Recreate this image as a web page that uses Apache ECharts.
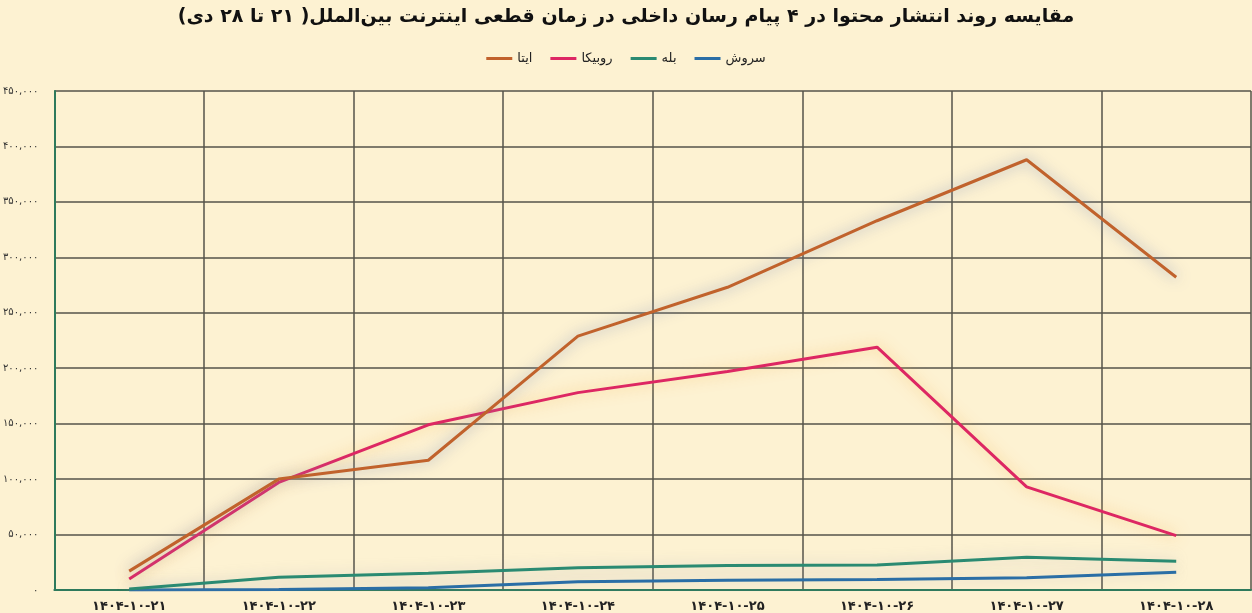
<!DOCTYPE html>
<html>
<head>
<meta charset="utf-8">
<script src="https://cdn.jsdelivr.net/npm/echarts@6/dist/echarts.min.js"></script>
<style>
html,body{margin:0;padding:0;background:#fdf2d2;}
#c{width:1252px;height:613px;}
</style>
</head>
<body>
<div id="c"></div>
<script>
var categories = ['1404-10-21','1404-10-22','1404-10-23','1404-10-24','1404-10-25','1404-10-26','1404-10-27','1404-10-28'];
var seriesNames = ['ایتا','روبیکا','بله','سروش'];
var ita    = [17000, 100000, 117000, 229000, 273000, 333000, 388000, 282000];
var rubika = [10000, 97000, 149000, 178000, 197000, 219000, 93000, 49000];
var bale   = [1000, 11500, 15000, 20000, 22000, 22500, 29500, 26000];
var sorush = [0, 500, 2000, 7500, 8800, 9500, 11000, 16000];
var yTicks = [0, 50000, 100000, 150000, 200000, 250000, 300000, 350000, 400000, 450000];

var fa = '۰۱۲۳۴۵۶۷۸۹';
function toFa(s){ return String(s).replace(/[0-9]/g, function(d){ return fa[+d]; }); }
function fmt(v){ return toFa(String(v).replace(/\B(?=(\d{3})+(?!\d))/g, ',')); }

var colors = ['#c1622c', '#dd2763', '#2a8a72', '#2a6ea6'];
var glows = ['rgba(130,145,185,0.85)', 'rgba(245,180,80,0.7)', 'rgba(150,160,180,0.45)', 'rgba(150,160,180,0.45)'];
var dataSets = [ita, rubika, bale, sorush];

var chart = echarts.init(document.getElementById('c'));
chart.setOption({
  backgroundColor: '#fdf2d2',
  title: {
    text: 'مقایسه روند انتشار محتوا در ۴ پیام رسان داخلی در زمان قطعی اینترنت بین‌الملل( ۲۱ تا ۲۸ دی)',
    left: 'center', top: 3,
    textStyle: { fontFamily: 'DejaVu Sans', fontWeight: 'bold', fontSize: 19, color: '#111' }
  },
  legend: {
    data: seriesNames,
    top: 47, left: 'center',
    icon: 'rect', itemWidth: 26, itemHeight: 3, itemGap: 18,
    textStyle: { fontFamily: 'DejaVu Sans', fontSize: 13, color: '#222' }
  },
  grid: { left: 54, right: 1, top: 91, bottom: 21, containLabel: false },
  xAxis: {
    type: 'category',
    data: categories,
    boundaryGap: true,
    axisLine: { lineStyle: { color: '#2e7a5c', width: 2 } },
    axisTick: { show: false },
    splitLine: { show: true, interval: 0, lineStyle: { color: '#55534a', width: 1.5 } },
    axisLabel: {
      interval: 0, margin: 10,
      formatter: function(v){ return toFa(v); },
      fontFamily: 'DejaVu Sans', fontWeight: 'bold', fontSize: 13, color: '#222'
    }
  },
  yAxis: {
    type: 'value',
    min: 0, max: 450000, interval: 50000,
    axisLine: { show: true, lineStyle: { color: '#2e7a5c', width: 2 } },
    axisTick: { show: false },
    splitLine: { lineStyle: { color: '#55534a', width: 1.5 } },
    axisLabel: {
      margin: 16,
      formatter: function(v){ return fmt(v); },
      fontFamily: 'DejaVu Sans', fontSize: 10, color: '#333'
    }
  },
  series: dataSets.map(function(d, i){
    return {
      name: seriesNames[i], type: 'line', data: d,
      symbol: 'none', smooth: false,
      lineStyle: { color: colors[i], width: 3, shadowColor: glows[i], shadowBlur: 14 },
      itemStyle: { color: colors[i] },
      z: 10 - i
    };
  })
});
</script>
</body>
</html>
